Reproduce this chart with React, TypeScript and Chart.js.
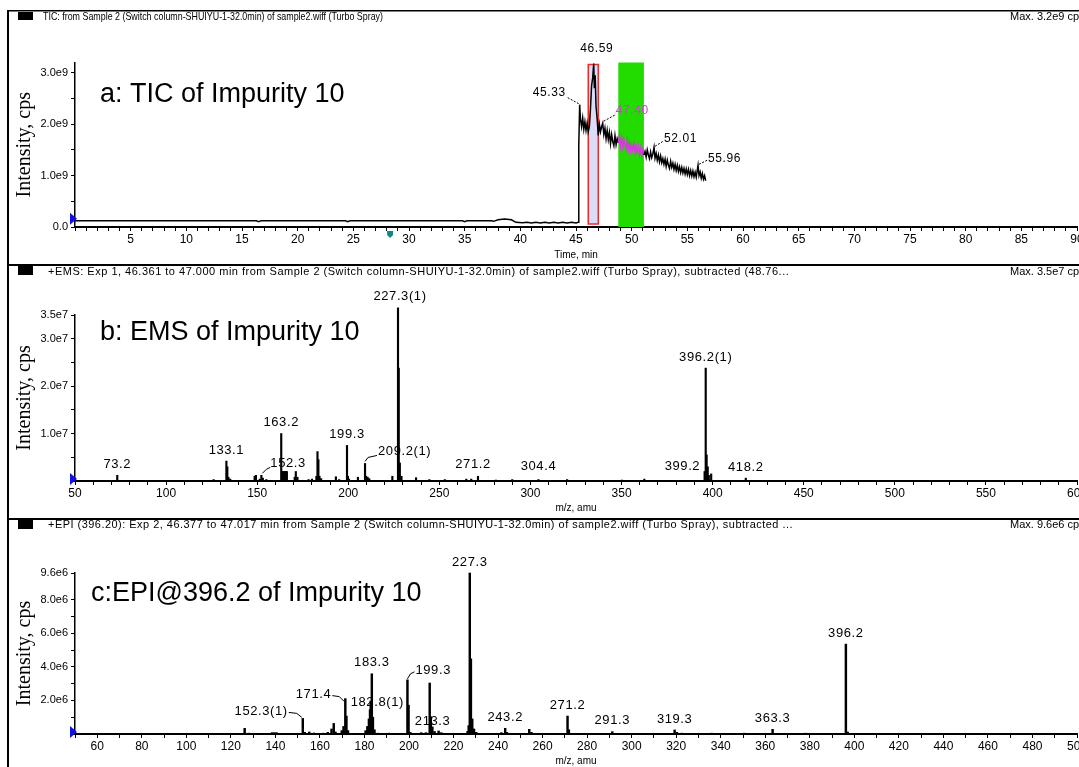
import React, { useEffect, useRef } from 'react';
import { Chart, registerables } from 'chart.js';

Chart.register(...registerables);

const W = 1079;
const SANS = '"Liberation Sans", Arial, Helvetica, sans-serif';
const SERIF = '"Liberation Serif", "Times New Roman", serif';
const MAGENTA = '#d23cd8';

// ---------------- Panel a: TIC (time in min, intensity in 1e9 cps) ----------------
const ticTrace: [number, number][] = [
  [0, 0.12], [16.3, 0.12], [16.5, 0.105], [16.7, 0.12], [24.3, 0.12], [24.5, 0.105], [24.7, 0.12],
  [34.8, 0.12], [35.0, 0.105], [35.2, 0.12], [37.4, 0.12], [37.6, 0.11], [38.0, 0.14], [38.6, 0.155],
  [39.2, 0.14], [39.6, 0.09], [40.2, 0.085], [40.6, 0.09], [41.0, 0.08], [41.4, 0.09], [41.8, 0.08],
  [42.2, 0.09], [42.6, 0.08], [43.0, 0.09], [43.4, 0.08], [43.8, 0.09], [44.2, 0.08], [44.6, 0.09],
  [45.0, 0.08], [45.2, 0.09], [45.25, 1.6], [45.33, 2.38], [45.4, 2.1], [45.5, 1.95], [45.6, 2.12],
  [45.7, 1.9], [45.8, 2.05], [45.9, 1.88], [46.0, 2.02], [46.1, 1.85], [46.2, 1.95], [46.3, 2.3],
  [46.4, 2.75], [46.5, 2.9], [46.59, 3.18], [46.65, 2.7], [46.72, 2.95], [46.8, 2.35], [46.9, 2.1],
  [47.0, 1.78], [47.1, 2.0], [47.2, 1.85], [47.3, 1.95], [47.4, 2.02], [47.5, 1.8], [47.6, 1.92],
  [47.7, 1.72], [47.8, 1.88], [47.9, 1.7], [48.0, 1.84], [48.1, 1.62], [48.2, 1.8], [48.3, 1.66],
  [48.4, 1.58], [48.5, 1.78], [48.6, 1.6], [48.7, 1.72], [48.8, 1.64], [48.9, 1.8], [49.0, 1.58],
  [49.1, 1.74], [49.2, 1.55], [49.3, 1.7], [49.4, 1.6], [49.5, 1.52], [49.6, 1.69], [49.7, 1.5],
  [49.8, 1.64], [49.9, 1.48], [50.0, 1.6], [50.1, 1.5], [50.2, 1.62], [50.3, 1.44], [50.4, 1.57],
  [50.5, 1.46], [50.6, 1.56], [50.7, 1.4], [50.8, 1.53], [50.9, 1.38], [51.0, 1.5], [51.1, 1.4],
  [51.2, 1.47], [51.3, 1.36], [51.4, 1.5], [51.5, 1.4], [51.6, 1.33], [51.7, 1.46], [51.8, 1.35],
  [51.9, 1.42], [52.01, 1.55], [52.1, 1.34], [52.2, 1.43], [52.3, 1.3], [52.4, 1.4], [52.5, 1.27],
  [52.6, 1.38], [52.7, 1.25], [52.8, 1.33], [52.9, 1.22], [53.0, 1.32], [53.1, 1.18], [53.2, 1.3],
  [53.3, 1.2], [53.4, 1.14], [53.5, 1.28], [53.6, 1.16], [53.7, 1.24], [53.8, 1.12], [53.9, 1.22],
  [54.0, 1.1], [54.1, 1.2], [54.2, 1.08], [54.3, 1.17], [54.4, 1.06], [54.5, 1.16], [54.6, 1.05],
  [54.7, 1.14], [54.8, 1.03], [54.9, 1.13], [55.0, 1.02], [55.1, 1.12], [55.2, 1.0], [55.3, 1.1],
  [55.4, 0.99], [55.5, 1.09], [55.6, 0.98], [55.7, 1.07], [55.8, 0.97], [55.96, 1.2], [56.05, 1.0],
  [56.15, 1.07], [56.25, 0.95], [56.35, 1.04], [56.45, 0.93], [56.55, 1.0], [56.65, 0.9],
];
const ticSelectedRange = [46.1, 47.0];
const ticSubtractRange = [48.8, 51.1];
const ticMarkerTime = 28.3;
const ticLabelTimes = [45.33, 46.59, 47.4, 52.01, 55.96];
const ticLabelText = ['45.33', '46.59', '47.40', '52.01', '55.96'];

// ---------------- Panel b: EMS (m/z, intensity in 1e7 cps) ----------------
const emsPeaks: [number, number][] = [
  [73.2, 0.12], [126.1, 0.03], [133.1, 0.42], [133.6, 0.3], [134.2, 0.08], [135.2, 0.04], [148.6, 0.1],
  [149.3, 0.12], [151.4, 0.04], [152.3, 0.12], [153.1, 0.06], [155, 0.03], [163.2, 1.0], [163.8, 0.2],
  [164.3, 0.2], [164.8, 0.2], [165.3, 0.2], [165.8, 0.2], [166.3, 0.2], [170.6, 0.08], [171.2, 0.2],
  [172.1, 0.08], [178.2, 0.03], [180.1, 0.04], [182.5, 0.1], [183.1, 0.62], [183.6, 0.45], [184.2, 0.1],
  [185.1, 0.05], [193.2, 0.09], [195, 0.03], [199.3, 0.75], [199.8, 0.1], [200.4, 0.04], [205.3, 0.08],
  [209.2, 0.37], [209.8, 0.1], [210.6, 0.08], [211.5, 0.05], [224.2, 0.1], [227.3, 3.65], [227.7, 2.38],
  [228.3, 0.38], [229.2, 0.1], [237.2, 0.07], [244.5, 0.03], [253, 0.03], [264.8, 0.04], [267.5, 0.04],
  [271.2, 0.1], [281, 0.02], [290, 0.03], [304.4, 0.03], [320.1, 0.03], [350.2, 0.02], [362.5, 0.04],
  [395.6, 0.2], [396.2, 2.38], [396.7, 0.55], [397.3, 0.3], [397.9, 0.12], [399.2, 0.15], [418.2, 0.06],
];
const emsLabelMz = [73.2, 133.1, 152.3, 163.2, 199.3, 209.2, 227.3, 271.2, 304.4, 396.2, 399.2, 418.2];
const emsLabelText = ['73.2', '133.1', '152.3', '163.2', '199.3', '209.2(1)', '227.3(1)', '271.2', '304.4', '396.2(1)', '399.2', '418.2'];

// ---------------- Panel c: EPI@396.2 (m/z, intensity in 1e6 cps) ----------------
const epiPeaks: [number, number][] = [
  [126.2, 0.34], [128, 0.05], [138.5, 0.08], [139.5, 0.08], [140.5, 0.08], [150, 0.04], [152.3, 0.93],
  [153.2, 0.1], [155.2, 0.12], [157.3, 0.06], [161.5, 0.05], [163.5, 0.1], [165.2, 0.3], [166.2, 0.63],
  [167, 0.12], [169.8, 0.2], [170.6, 0.45], [171.4, 2.11], [171.9, 1.07], [172.6, 0.2], [176, 0.04],
  [180.5, 0.2], [181.3, 0.45], [182, 0.9], [182.5, 1.45], [182.8, 1.97], [183.3, 3.59], [183.8, 1.0],
  [184.5, 0.25], [186, 0.05], [191, 0.05], [199.3, 3.23], [199.8, 1.72], [200.6, 0.1], [205.5, 0.08],
  [207.6, 0.08], [209.3, 3.04], [209.8, 1.03], [210.5, 0.42], [211.5, 0.15], [213.3, 0.18], [214.5, 0.08],
  [226.3, 0.15], [226.8, 0.5], [227.3, 9.6], [227.8, 4.48], [228.4, 0.9], [229.2, 0.3], [230.2, 0.1],
  [241.5, 0.08], [243.2, 0.34], [244, 0.1], [254, 0.28], [255, 0.1], [271.2, 1.07], [271.8, 0.25],
  [291.3, 0.14], [319.3, 0.24], [320.3, 0.1], [322.5, 0.05], [336, 0.05], [350.5, 0.05], [363.3, 0.28],
  [378, 0.05], [396.2, 5.36], [397, 0.12],
];
const epiLabelMz = [152.3, 171.4, 182.8, 183.3, 199.3, 213.3, 227.3, 243.2, 271.2, 291.3, 319.3, 363.3, 396.2];
const epiLabelText = ['152.3(1)', '171.4', '182.8(1)', '183.3', '199.3', '213.3', '227.3', '243.2', '271.2', '291.3', '319.3', '363.3', '396.2'];

// ---------------- drawing helpers ----------------
type Place = { dx: number; dy: number; align?: CanvasTextAlign; leader?: number[][]; color?: string; dash?: boolean };

const ticPlace: Record<string, Place> = {
  '45.33': { dx: -14, dy: -12, align: 'right', leader: [[-12, -7], [-1, -1]], dash: true },
  '46.59': { dx: 3, dy: -15 },
  '47.40': { dx: 13, dy: -12, align: 'left', leader: [[1, -2], [12, -8]], color: MAGENTA, dash: true },
  '52.01': { dx: 10, dy: -9, align: 'left', leader: [[1, -1], [9, -6]], dash: true },
  '55.96': { dx: 10, dy: -7, align: 'left', leader: [[1, -1], [9, -5]], dash: true },
};
const emsPlace: Record<string, Place> = {
  '152.3': { dx: 9, dy: -12, align: 'left', leader: [[1, -2], [5, -6], [9, -8]] },
  '209.2(1)': { dx: 13, dy: -12, align: 'left', leader: [[0, -2], [3, -6], [12, -8]] },
  '227.3(1)': { dx: 2, dy: -11 },
  '271.2': { dx: -5, dy: -12 },
  '304.4': { dx: 0, dy: -13 },
  '399.2': { dx: -11, dy: -7, align: 'right' },
};
const epiPlace: Record<string, Place> = {
  '152.3(1)': { dx: -15, dy: -7, align: 'right', leader: [[-14, -6], [-6, -5], [-1, -1]] },
  '171.4': { dx: -14, dy: -4, align: 'right', leader: [[-13, -3], [-6, -2], [-1, 3]] },
  '182.8(1)': { dx: -20, dy: 1, align: 'left' },
  '199.3': { dx: 8, dy: -9, align: 'left', leader: [[0, -1], [3, -6], [7, -8]] },
  '213.3': { dx: -6, dy: -10 },
};

interface Decor {
  header: string; headerX: number; headerY: number; headerMaxW: number; headerSpacing: number;
  maxText: string; squareY: number; squareH: number; topLine: number;
  title: string; titleX: number; titleY: number;
  labelSize: number; labels: { text: string; x: number; y: number }[]; places: Record<string, Place>;
  markerValue: number;
  before?: (chart: any) => void; after?: (chart: any) => void;
}

function decorPlugin(d: Decor) {
  return {
    id: 'decor',
    beforeDatasetsDraw(chart: any) { if (d.before) d.before(chart); },
    afterDraw(chart: any) {
      const ctx: any = chart.ctx;
      const xs = chart.scales.x; const ys = chart.scales.y;
      ctx.save();
      ctx.fillStyle = '#000';
      ctx.fillRect(7, 0, 2, chart.height);
      ctx.fillRect(7, 0, W, d.topLine);
      ctx.fillRect(18, d.squareY, 15, d.squareH);
      ctx.font = `11px ${SANS}`;
      ctx.textBaseline = 'middle';
      ctx.textAlign = 'left';
      ctx.letterSpacing = `${d.headerSpacing}px`;
      ctx.fillText(d.header, d.headerX, d.headerY, d.headerMaxW);
      ctx.letterSpacing = '0px';
      ctx.fillText(d.maxText, 1010, d.headerY);
      ctx.font = `27px ${SANS}`;
      ctx.textBaseline = 'alphabetic';
      ctx.fillText(d.title, d.titleX, d.titleY);
      // peak labels
      ctx.font = `${d.labelSize}px ${SANS}`;
      ctx.textBaseline = 'middle';
      ctx.letterSpacing = '0.6px';
      for (const l of d.labels) {
        const p = d.places[l.text] || { dx: 0, dy: -11 };
        const px = xs.getPixelForValue(l.x);
        const py = ys.getPixelForValue(l.y);
        if (p.leader) {
          ctx.save();
          ctx.strokeStyle = '#000';
          ctx.lineWidth = 1;
          if (p.dash) ctx.setLineDash([2, 1.5]);
          ctx.beginPath();
          p.leader.forEach((pt, i) => (i === 0 ? ctx.moveTo(px + pt[0], py + pt[1]) : ctx.lineTo(px + pt[0], py + pt[1])));
          ctx.stroke();
          ctx.restore();
        }
        ctx.fillStyle = p.color || '#000';
        ctx.textAlign = p.align || 'center';
        ctx.fillText(l.text, px + p.dx, py + p.dy);
      }
      ctx.letterSpacing = '0px';
      // blue start marker
      const by = ys.getPixelForValue(d.markerValue) - 2;
      ctx.fillStyle = '#1010e0';
      ctx.beginPath();
      ctx.moveTo(70, by - 6);
      ctx.lineTo(77, by);
      ctx.lineTo(70, by + 6);
      ctx.closePath();
      ctx.fill();
      if (d.after) d.after(chart);
      ctx.restore();
    },
  };
}

function axisOptions(o: {
  xMin: number; xMax: number; xStep: number; xCb: (v: number) => string; xTitle: string; xH: number; xTitlePad: number;
  yMax: number; yStep: number; yCb: (v: number) => string; yBounds: boolean;
}) {
  return {
    x: {
      type: 'linear', min: o.xMin, max: o.xMax, offset: false,
      afterFit: (s: any) => { s.height = o.xH; s.paddingLeft = 0; s.paddingRight = 0; },
      ticks: {
        stepSize: o.xStep, autoSkip: false, maxRotation: 0, minRotation: 0, padding: 1, color: '#000',
        includeBounds: false, font: { family: SANS, size: 12 }, callback: (v: any) => o.xCb(Number(v)),
      },
      grid: { display: true, offset: false, drawOnChartArea: false, drawTicks: true, tickLength: 4, color: '#000', tickColor: '#000', tickWidth: 1 },
      border: { display: true, color: '#000', width: 2 },
      title: { display: true, text: o.xTitle, color: '#000', font: { family: SANS, size: 10 }, padding: { top: 0, bottom: o.xTitlePad } },
    },
    y: {
      type: 'linear', min: 0, max: o.yMax,
      afterFit: (s: any) => { s.width = 75; s.paddingTop = 0; s.paddingBottom = 0; },
      ticks: {
        stepSize: o.yStep, autoSkip: false, padding: 3, color: '#000', includeBounds: o.yBounds,
        font: { family: SANS, size: 11 }, callback: (v: any) => o.yCb(Number(v)),
      },
      grid: { display: true, drawOnChartArea: false, drawTicks: true, tickLength: 4, color: '#000', tickColor: '#000', tickWidth: 1 },
      border: { display: true, color: '#000', width: 1.5 },
      title: { display: true, text: 'Intensity, cps', color: '#000', font: { family: SERIF, size: 20 }, padding: { top: 13, bottom: 0 } },
    },
  };
}

const baseOpts = (padTop: number) => ({
  responsive: false, animation: false as const, devicePixelRatio: 1, events: [] as any[],
  layout: { padding: { left: 0, right: 2, top: padTop, bottom: 0 } },
  plugins: { legend: { display: false }, tooltip: { enabled: false } },
});

function nearestY(list: [number, number][], x: number) {
  let best = list[0];
  for (const p of list) if (Math.abs(p[0] - x) < Math.abs(best[0] - x)) best = p;
  return best[1];
}

function buildTic() {
  const inSub = (t: number) => t >= ticSubtractRange[0] && t <= ticSubtractRange[1];
  const decor: Decor = {
    header: 'TIC: from Sample 2 (Switch column-SHUIYU-1-32.0min) of sample2.wiff (Turbo Spray)',
    headerX: 43, headerY: 7, headerMaxW: 340, headerSpacing: 0, maxText: 'Max. 3.2e9 cps', squareY: 2, squareH: 8, topLine: 1.5,
    title: 'a: TIC of Impurity 10', titleX: 100, titleY: 91.5, labelSize: 12,
    labels: ticLabelTimes.map((t, i) => ({ text: ticLabelText[i], x: t, y: nearestY(ticTrace, t) })),
    places: ticPlace, markerValue: ticTrace[0][1],
    before: (chart: any) => {
      const ctx: CanvasRenderingContext2D = chart.ctx; const xs = chart.scales.x; const a = chart.chartArea;
      const g0 = xs.getPixelForValue(ticSubtractRange[0]); const g1 = xs.getPixelForValue(ticSubtractRange[1]);
      ctx.save();
      ctx.fillStyle = '#22dc00';
      ctx.fillRect(g0, a.top, g1 - g0, a.bottom - a.top);
      const r0 = xs.getPixelForValue(ticSelectedRange[0]); const r1 = xs.getPixelForValue(ticSelectedRange[1]);
      ctx.fillStyle = '#dcdcf6';
      ctx.fillRect(r0, a.top + 2, r1 - r0, a.bottom - a.top - 5);
      ctx.strokeStyle = '#ee2a2a'; ctx.lineWidth = 1.5;
      ctx.strokeRect(r0, a.top + 2, r1 - r0, a.bottom - a.top - 5);
      ctx.restore();
    },
    after: (chart: any) => {
      const ctx: CanvasRenderingContext2D = chart.ctx; const xs = chart.scales.x; const a = chart.chartArea;
      const mx = xs.getPixelForValue(ticMarkerTime); const my = a.bottom + 4;
      ctx.fillStyle = '#0a8a8a';
      ctx.beginPath();
      ctx.moveTo(mx - 3, my); ctx.lineTo(mx + 3, my); ctx.lineTo(mx + 3, my + 4); ctx.lineTo(mx, my + 7); ctx.lineTo(mx - 3, my + 4);
      ctx.closePath(); ctx.fill();
    },
  };
  return {
    type: 'line',
    data: {
      datasets: [{
        data: ticTrace.map(([x, y]) => ({ x, y })), borderColor: '#000', borderWidth: 1.5, pointRadius: 0, tension: 0,
        segment: { borderColor: (c: any) => (inSub(c.p0.parsed.x) && inSub(c.p1.parsed.x) ? MAGENTA : '#000') },
      }],
    },
    options: {
      ...baseOpts(52.5),
      scales: axisOptions({
        xMin: 0, xMax: 90, xStep: 1, xCb: (v) => (v > 0 && v % 5 === 0 ? String(v) : ''), xTitle: 'Time, min', xH: 37, xTitlePad: 3,
        yMax: 3.2, yStep: 0.5, yBounds: false,
        yCb: (v) => (Math.abs(v - Math.round(v)) < 1e-9 ? (v === 0 ? '0.0' : v.toFixed(1) + 'e9') : ''),
      }),
    },
    plugins: [decorPlugin(decor)],
  };
}

function buildSpectrum(kind: 'ems' | 'epi') {
  const isB = kind === 'ems';
  const peaks = isB ? emsPeaks : epiPeaks;
  const lm = isB ? emsLabelMz : epiLabelMz;
  const lt = isB ? emsLabelText : epiLabelText;
  const decor: Decor = isB ? {
    header: '+EMS: Exp 1, 46.361 to 47.000 min from Sample 2 (Switch column-SHUIYU-1-32.0min) of sample2.wiff (Turbo Spray), subtracted (48.76...',
    headerX: 48, headerY: 8, headerMaxW: 745, headerSpacing: 0.5, maxText: 'Max. 3.5e7 cps', squareY: 1, squareH: 10, topLine: 2,
    title: 'b: EMS of Impurity 10', titleX: 100, titleY: 76, labelSize: 13,
    labels: lm.map((m, i) => ({ text: lt[i], x: m, y: nearestY(peaks, m) })), places: emsPlace, markerValue: 0,
  } : {
    header: '+EPI (396.20): Exp 2, 46.377 to 47.017 min from Sample 2 (Switch column-SHUIYU-1-32.0min) of sample2.wiff (Turbo Spray), subtracted ...',
    headerX: 48, headerY: 7, headerMaxW: 745, headerSpacing: 0.5, maxText: 'Max. 9.6e6 cps', squareY: 0, squareH: 11, topLine: 2,
    title: 'c:EPI@396.2 of Impurity 10', titleX: 91, titleY: 83, labelSize: 13,
    labels: lm.map((m, i) => ({ text: lt[i], x: m, y: nearestY(peaks, m) })), places: epiPlace, markerValue: 0,
  };
  const scales = isB
    ? axisOptions({
      xMin: 50, xMax: 600, xStep: 10, xCb: (v) => (v % 50 === 0 ? String(v) : ''), xTitle: 'm/z, amu', xH: 37, xTitlePad: 4,
      yMax: 3.5, yStep: 0.5, yBounds: false,
      yCb: (v) => (v > 0 && (Math.abs(v - Math.round(v)) < 1e-9 || v === 3.5) ? v.toFixed(1) + 'e7' : ''),
    })
    : axisOptions({
      xMin: 50, xMax: 500, xStep: 10, xCb: (v) => (v % 20 === 0 ? String(v) : ''), xTitle: 'm/z, amu', xH: 33, xTitlePad: 0,
      yMax: 9.6, yStep: 1, yBounds: true,
      yCb: (v) => (v > 0 && (Math.abs(v % 2) < 1e-9 || Math.abs(v - 9.6) < 1e-9) ? v.toFixed(1) + 'e6' : ''),
    });
  return {
    type: 'bar',
    data: {
      datasets: [{
        data: peaks.map(([x, y]) => ({ x, y })), backgroundColor: '#000', borderWidth: 0,
        barThickness: isB ? 1.5 : 1.8, clip: false,
      }],
    },
    options: { ...baseOpts(isB ? 51 : 55), scales },
    plugins: [decorPlugin(decor)],
  };
}

function ChartPanel({ top, height, build }: { top: number; height: number; build: () => any }) {
  const ref = useRef<HTMLCanvasElement>(null);
  useEffect(() => {
    const chart = new Chart(ref.current as HTMLCanvasElement, build());
    return () => chart.destroy();
  }, []);
  return (
    <canvas ref={ref} width={W} height={height}
      style={{ position: 'absolute', left: 0, top, width: W, height, display: 'block' }} />
  );
}

export default function App() {
  return (
    <div style={{ position: 'fixed', left: 0, top: 0, width: W, height: 767, overflow: 'hidden', background: '#fff' }}>
      <ChartPanel top={10} height={254} build={buildTic} />
      <ChartPanel top={264} height={254} build={() => buildSpectrum('ems')} />
      <ChartPanel top={518} height={249} build={() => buildSpectrum('epi')} />
    </div>
  );
}
